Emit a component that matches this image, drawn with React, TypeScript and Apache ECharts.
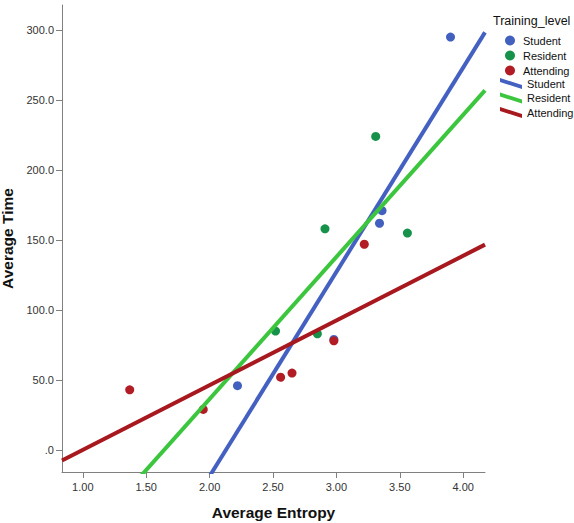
import React, { useEffect, useRef } from "react";
import * as echarts from "echarts";

const groups = ["Student", "Resident", "Attending"];
const studentX = [3.9, 3.36, 3.34, 2.22, 2.98];
const studentY = [295, 171, 162, 46, 79];
const residentX = [3.31, 2.91, 3.56, 2.52, 2.85];
const residentY = [224, 158, 155, 85, 83];
const attendingX = [1.37, 1.95, 2.56, 2.65, 2.98, 3.22];
const attendingY = [43, 29, 52, 55, 78, 147];
const xTicks = [1, 1.5, 2, 2.5, 3, 3.5, 4];
const yTicks = [0, 50, 100, 150, 200, 250, 300];

const pointColors = ["#4261bf", "#17924a", "#b21c24"];
const lineColors = ["#4461c2", "#3cc63e", "#a7181f"];

const X_MIN = 0.836;
const X_MAX = 4.172;
const Y_MIN = -15.7;
const Y_MAX = 317.9;

function fit(xs: number[], ys: number[]) {
  const n = xs.length;
  const mx = xs.reduce((a, b) => a + b, 0) / n;
  const my = ys.reduce((a, b) => a + b, 0) / n;
  let sxy = 0;
  let sxx = 0;
  for (let i = 0; i < n; i++) {
    sxy += (xs[i] - mx) * (ys[i] - my);
    sxx += (xs[i] - mx) * (xs[i] - mx);
  }
  const b = sxy / sxx;
  const a = my - b * mx;
  return [
    [X_MIN, a + b * X_MIN],
    [X_MAX, a + b * X_MAX],
  ];
}

const FONT = 'Arial, "Liberation Sans", sans-serif';

export default function App() {
  const ref = useRef<HTMLDivElement>(null);
  useEffect(() => {
    if (!ref.current) return;
    const chart = echarts.init(ref.current, null, { renderer: "svg" });
    const xsAll = [studentX, residentX, attendingX];
    const ysAll = [studentY, residentY, attendingY];
    const scatterSeries = groups.map((g, i) => ({
      name: g,
      type: "scatter",
      symbol: "circle",
      symbolSize: 9,
      itemStyle: { color: pointColors[i], opacity: 1 },
      z: 2,
      data: xsAll[i].map((x, j) => [x, ysAll[i][j]]),
    }));
    const lineSeries = groups.map((g, i) => ({
      name: g + " fit",
      type: "line",
      showSymbol: false,
      symbol: "none",
      clip: true,
      z: 3,
      lineStyle: { color: lineColors[i], width: 4 },
      itemStyle: { color: lineColors[i] },
      data: fit(xsAll[i], ysAll[i]),
    }));
    const lineIcon = "path://M0,0 L22,7 L22,11 L0,4 Z";
    chart.setOption({
      animation: false,
      backgroundColor: "#ffffff",
      textStyle: { fontFamily: FONT },
      title: {
        text: "Training_level",
        left: 493,
        top: 14,
        padding: 0,
        textStyle: { fontFamily: FONT, fontSize: 12.5, fontWeight: "normal", color: "#111" },
      },
      legend: [
        {
          data: groups,
          orient: "vertical",
          left: 500,
          top: 30,
          itemWidth: 16,
          itemHeight: 10,
          itemGap: 4,
          icon: "circle",
          selectedMode: false,
          textStyle: { fontFamily: FONT, fontSize: 11, color: "#111" },
        },
        {
          data: groups.map((g) => g + " fit"),
          orient: "vertical",
          left: 495,
          top: 73,
          itemWidth: 22,
          itemHeight: 11,
          itemGap: 3.5,
          icon: lineIcon,
          selectedMode: false,
          formatter: (name: string) => name.replace(" fit", ""),
          textStyle: { fontFamily: FONT, fontSize: 11, color: "#111" },
        },
      ],
      grid: { left: 62, right: 89, top: 5, bottom: 51, containLabel: false, outerBoundsMode: "none" },
      xAxis: {
        type: "value",
        min: X_MIN,
        max: X_MAX,
        name: "Average Entropy",
        nameLocation: "middle",
        nameGap: 32,
        nameTextStyle: { fontFamily: FONT, fontSize: 15.5, fontWeight: "bold", color: "#111" },
        splitLine: { show: false },
        axisLine: { show: true, onZero: false, lineStyle: { color: "#808080", width: 1 } },
        axisTick: { show: true, inside: false, length: 6, customValues: xTicks, lineStyle: { color: "#808080" } },
        axisLabel: {
          customValues: xTicks,
          margin: 9,
          fontFamily: FONT,
          fontSize: 11,
          color: "#333",
          formatter: (v: number) => v.toFixed(2),
        },
      },
      yAxis: {
        type: "value",
        min: Y_MIN,
        max: Y_MAX,
        name: "Average Time",
        nameLocation: "middle",
        nameGap: 47,
        nameRotate: 90,
        nameTextStyle: { fontFamily: FONT, fontSize: 15.5, fontWeight: "bold", color: "#111" },
        splitLine: { show: false },
        axisLine: { show: true, onZero: false, lineStyle: { color: "#808080", width: 1 } },
        axisTick: { show: true, inside: false, length: 6, customValues: yTicks, lineStyle: { color: "#808080" } },
        axisLabel: {
          customValues: yTicks,
          margin: 8,
          fontFamily: FONT,
          fontSize: 11,
          color: "#333",
          formatter: (v: number) => (v === 0 ? ".0" : v.toFixed(1)),
        },
      },
      series: [...scatterSeries, ...lineSeries],
    });
    return () => chart.dispose();
  }, []);
  return (
    <div
      ref={ref}
      style={{ position: "absolute", left: 0, top: 0, width: 574, height: 523, background: "#fff" }}
    />
  );
}
